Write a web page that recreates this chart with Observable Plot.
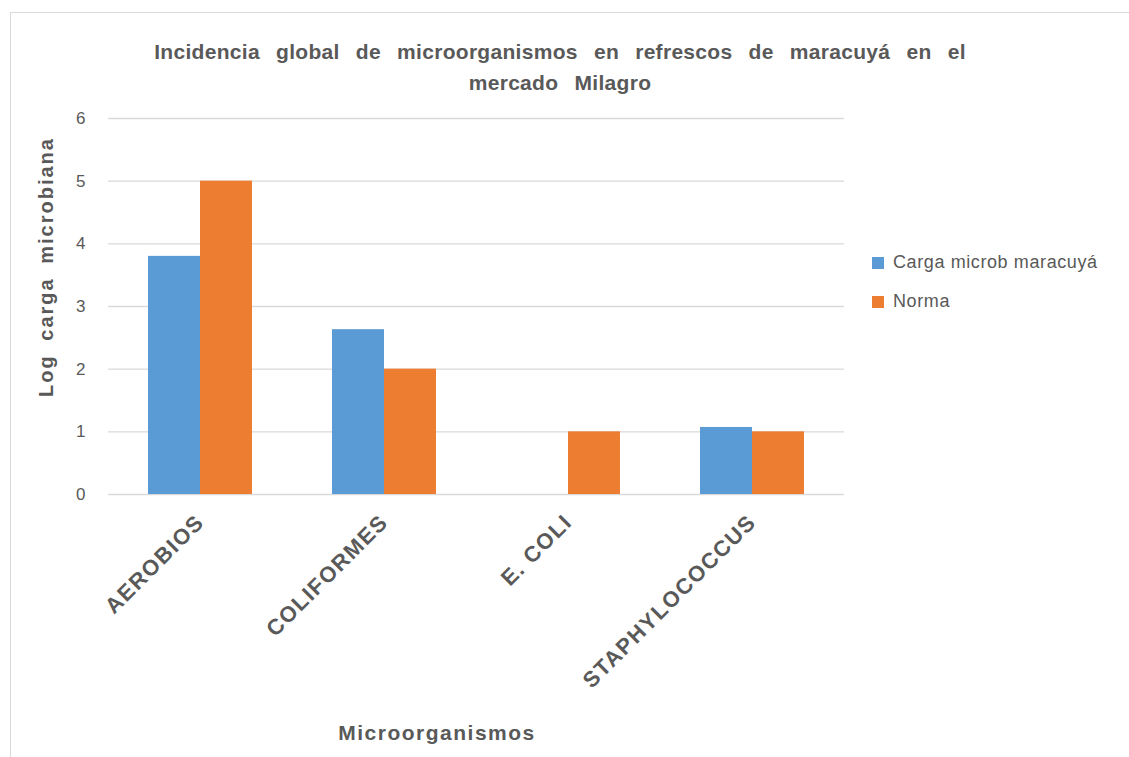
<!DOCTYPE html>
<html>
<head>
<meta charset="utf-8">
<script src="https://cdn.jsdelivr.net/npm/d3@7"></script>
<script src="https://cdn.jsdelivr.net/npm/@observablehq/plot@0.6"></script>
<style>
  html, body { margin: 0; padding: 0; background: #fff; }
  #wrap { position: relative; width: 1129px; height: 757px; overflow: hidden; font-family: "Liberation Sans", Arial, sans-serif; color: #595959; }
  #frame { position: absolute; left: 10px; top: 12px; width: 1200px; height: 800px; border-left: 1px solid #d9d9d9; border-top: 1px solid #d9d9d9; }
  #chart { position: absolute; left: 0; top: 0; }
  #chart g[aria-label="fx-axis tick label"] text { letter-spacing: 1.5px; }
  .title { position: absolute; left: 0; width: 1120px; text-align: center; font-weight: bold; font-size: 21px; letter-spacing: 0.3px; word-spacing: 10px; white-space: nowrap; }
  #ylab { position: absolute; left: 46px; top: 267px; transform: translate(-50%, -50%) rotate(-90deg); font-weight: bold; font-size: 20px; letter-spacing: 2px; word-spacing: 6px; white-space: nowrap; }
  #xlab { position: absolute; left: 437px; top: 733px; transform: translate(-50%, -50%); font-weight: bold; font-size: 21px; letter-spacing: 1.5px; white-space: nowrap; }
  .leg { position: absolute; left: 872px; font-size: 18px; letter-spacing: 0.6px; white-space: nowrap; line-height: 20px; }
  .leg span.sw { display: inline-block; width: 12px; height: 12px; margin-right: 9px; vertical-align: -1px; }
</style>
</head>
<body>
<div id="wrap">
  <div id="frame"></div>
  <div id="chart"></div>
  <div class="title" style="top:40px">Incidencia global de microorganismos en refrescos de maracuyá en el</div>
  <div class="title" style="top:71px">mercado Milagro</div>
  <div id="ylab">Log carga microbiana</div>
  <div id="xlab">Microorganismos</div>
  <div id="legend"></div>
</div>
<script>
const categories = ["AEROBIOS", "COLIFORMES", "E. COLI", "STAPHYLOCOCCUS"];
const series = ["Carga microb maracuyá", "Norma"];
const cargaValues = [3.8, 2.63, 0, 1.07];
const normaValues = [5, 2, 1, 1];
const yTicks = [0, 1, 2, 3, 4, 5, 6];
const colors = ["#5B9BD5", "#ED7D31"];

const data = categories.flatMap((c, i) => [
  {cat: c, serie: series[0], value: cargaValues[i]},
  {cat: c, serie: series[1], value: normaValues[i]}
]);

const chart = Plot.plot({
  width: 1129,
  height: 757,
  marginTop: 118,
  marginBottom: 263,
  marginLeft: 107,
  marginRight: 284,
  style: {fontFamily: "'Liberation Sans', Arial, sans-serif", color: "#595959", background: "transparent"},
  fx: {domain: categories, padding: 0, label: null},
  x: {domain: series, paddingInner: 0, paddingOuter: 0.74, axis: null},
  y: {domain: [0, 6], label: null},
  color: {domain: series, range: colors},
  marks: [
    Plot.ruleY(yTicks, {stroke: "#d9d9d9", strokeWidth: 1.3}),
    Plot.barY(data, {fx: "cat", x: "serie", y: "value", fill: "serie"}),
    Plot.axisY({ticks: yTicks, tickFormat: "d", tickSize: 0, tickPadding: 23, fontSize: 17, label: null}),
    Plot.axisFx({anchor: "bottom", tickRotate: -45, tickSize: 0, tickPadding: 24, fontSize: 22, fontWeight: "bold", label: null})
  ]
});
document.getElementById("chart").appendChild(chart);

const legend = document.getElementById("legend");
series.forEach((s, i) => {
  const d = document.createElement("div");
  d.className = "leg";
  d.style.top = (252 + i * 39) + "px";
  d.innerHTML = `<span class="sw" style="background:${colors[i]}"></span>${s}`;
  legend.appendChild(d);
});
</script>
</body>
</html>
